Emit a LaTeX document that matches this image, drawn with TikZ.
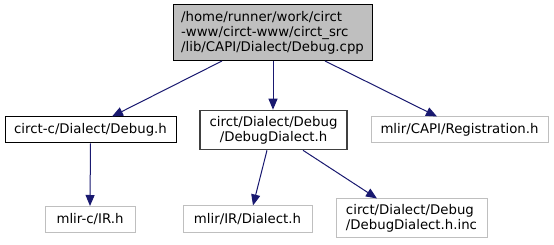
\documentclass[tikz,border=0pt]{standalone}
\usepackage{fontspec}
\setmainfont{DejaVu Sans}
\usetikzlibrary{arrows.meta}
\definecolor{edgeblue}{HTML}{191970}
\definecolor{boxgray}{HTML}{BFBFBF}
\definecolor{boxdark}{HTML}{404040}
\tikzset{
  filebox/.style={draw=black, line width=1pt, inner sep=0pt, font=\fontsize{13.3}{15}\selectfont},
  rootbox/.style={filebox, fill=boxgray},
  localbox/.style={filebox, draw=boxdark, line width=1.6pt},
  extbox/.style={filebox, draw=boxgray},
  dep/.style={draw=edgeblue, line width=1pt, -{Triangle[length=11pt,width=9pt]}},
}
\begin{document}
\begin{tikzpicture}[x=1pt, y=-1pt]
\useasboundingbox (0,0) rectangle (554,245);

\node[rootbox, minimum width=199pt, minimum height=56pt, align=left] (root) at (272.5,33)
  {/home/runner/work/circt\\-www/circt-www/circt\_src\\/lib/CAPI/Dialect/Debug.cpp};

\node[filebox, minimum width=171pt, minimum height=26pt] (capi) at (90.5,130) {circt-c/Dialect/Debug.h};
\node[localbox, minimum width=147pt, minimum height=39pt, align=center] (dbg) at (273.5,130)
  {circt/Dialect/Debug\\/DebugDialect.h};
\node[extbox, minimum width=177pt, minimum height=26pt] (reg) at (459.5,130) {mlir/CAPI/Registration.h};

\node[extbox, minimum width=90pt, minimum height=26pt] (ir) at (90,219.5) {mlir-c/IR.h};
\node[extbox, minimum width=129pt, minimum height=27pt] (dialect) at (247.5,219.5) {mlir/IR/Dialect.h};
\node[extbox, minimum width=151pt, minimum height=39pt, align=left] (inc) at (411.5,218.5)
  {circt/Dialect/Debug\\/DebugDialect.h.inc};

\draw[dep] (222,61) -- (capi.north -| 112,0);
\draw[dep] (root.south -| 273,0) -- (dbg.north -| 273,0);
\draw[dep] (325,61) -- (reg.north -| 437,0);
\draw[dep] (capi.south) -- (ir.north);
\draw[dep] (dbg.south -| 267,0) -- (dialect.north -| 253,0);
\draw[dep] (dbg.south -| 303,0) -- (inc.north -| 377,0);
\end{tikzpicture}
\end{document}
